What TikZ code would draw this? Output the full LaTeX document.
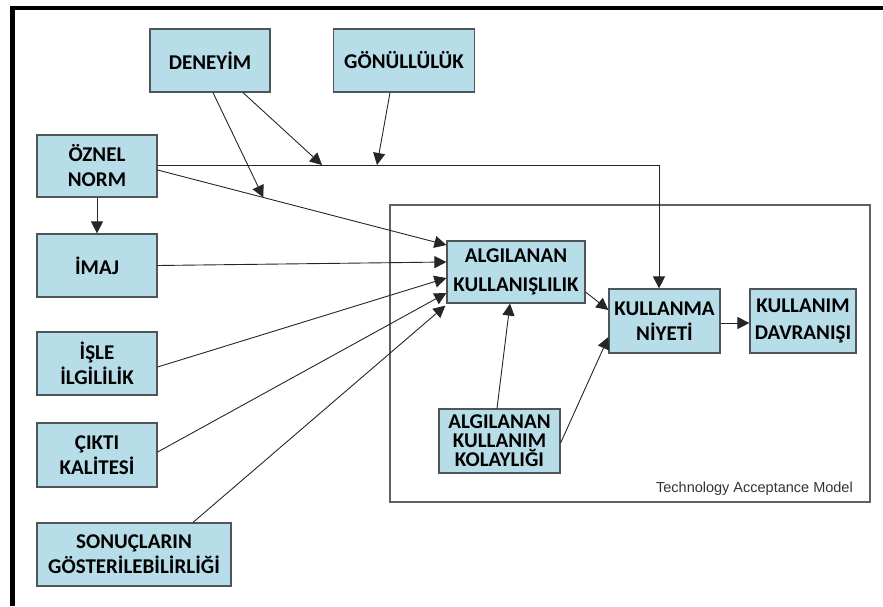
\documentclass[tikz,border=0pt]{standalone}
\usepackage{fontspec}
\setmainfont{Carlito}
\newfontfamily\tamfont{Liberation Sans}
\usetikzlibrary{arrows.meta,calc}
\definecolor{boxblue}{RGB}{183,221,232}
\definecolor{boxline}{RGB}{78,86,90}
\definecolor{framegray}{RGB}{96,96,96}
\tikzset{
  factor/.style={draw=boxline, fill=boxblue, line width=1.2pt, inner sep=0pt,
    align=center, font=\bfseries\fontsize{21}{25}\selectfont},
  link/.style={draw=black!85, line width=0.9pt},
  arr/.style={link, -{Triangle[length=12pt,width=12pt]}},
}
\begin{document}
\begin{tikzpicture}[x=1pt,y=-1pt]
  \useasboundingbox (0,0) rectangle (883,606);
  % outer frame: heavy top and left rules
  \draw[line width=4pt] (12.5,8) -- (883,8);
  \draw[line width=5pt] (12.5,6) -- (12.5,606);

  % Technology Acceptance Model frame
  \node[draw=framegray, line width=1.1pt, minimum width=480pt, minimum height=297pt,
        inner sep=0pt] (tam) at (630,353.5) {};
  \node[anchor=base east, inner sep=0pt, text=black!80,
        font=\tamfont\fontsize{14.5}{16}\selectfont] (tamlabel) at (853,492)
        {Technology Acceptance Model};

  % external factors
  \node[factor, minimum width=120pt, minimum height=63pt] (deneyim) at (210,60.5) {DENEYİM};
  \node[factor, minimum width=141pt, minimum height=63pt] (gonul) at (404,60.5) {GÖNÜLLÜLÜK};
  \node[factor, minimum width=120pt, minimum height=62pt] (oznel) at (97,166) {ÖZNEL\\NORM};
  \node[factor, minimum width=120pt, minimum height=63pt] (imaj) at (97,265.5) {İMAJ};
  \node[factor, minimum width=120pt, minimum height=63pt] (isle) at (97,363.5) {İŞLE\\İLGİLİLİK};
  \node[factor, minimum width=120pt, minimum height=64pt] (cikti) at (97,455) {ÇIKTI\\KALİTESİ};
  \node[factor, minimum width=194pt, minimum height=63pt] (sonuc) at (134,554.5) {SONUÇLARIN\\GÖSTERİLEBİLİRLİĞİ};

  % TAM core
  \node[factor, minimum width=138pt, minimum height=62pt,
        font=\bfseries\fontsize{21}{29}\selectfont] (au) at (516,272) {ALGILANAN\\KULLANIŞLILIK};
  \node[factor, minimum width=111pt, minimum height=64pt] (niyet) at (664.5,321) {KULLANMA\\NİYETİ};
  \node[factor, minimum width=106pt, minimum height=64pt,
        font=\bfseries\fontsize{21}{27}\selectfont] (davr) at (803,321) {KULLANIM\\DAVRANIŞI};
  \node[factor, minimum width=121pt, minimum height=64pt,
        font=\bfseries\fontsize{21}{19}\selectfont] (kolay) at (499.5,441) {ALGILANAN\\KULLANIM\\KOLAYLIĞI};

  % junction points on the moderated paths (shifts are in page units, up = positive)
  \coordinate (onStart) at ([yshift=-4pt]oznel.east);
  \coordinate (onEnd) at ([yshift=27pt]au.west);
  \coordinate (j1) at ($(onStart)!0.366!(onEnd)$);
  \coordinate (j2) at (322,165);
  \coordinate (j3) at (377,165);
  \coordinate (bend) at ([xshift=-5.5pt]niyet.north);

  % subjective norm paths
  \draw[arr] (onStart) -- (onEnd);
  \draw[arr] ([yshift=1pt]oznel.east) -| (bend);
  \draw[arr] (oznel.south) -- (imaj.north);

  % moderators
  \draw[arr] ([xshift=3pt]deneyim.south) -- (j1);
  \draw[arr] ([xshift=33pt]deneyim.south) -- (j2);
  \draw[arr] ([xshift=-14pt]gonul.south) -- (j3);

  % determinants of perceived usefulness
  \draw[arr] (imaj.east) -- ([yshift=10pt]au.west);
  \draw[arr] ([yshift=-3.5pt]isle.east) -- ([yshift=-6pt]au.west);
  \draw[arr] ([yshift=3pt]cikti.east) -- ([yshift=-21pt]au.west);
  \draw[arr] ([xshift=59pt]sonuc.north) -- ([xshift=-1pt,yshift=-2pt]au.south west);

  % TAM relations
  \draw[arr] ([yshift=-20pt]au.east) -- ([yshift=11pt]niyet.west);
  \draw[arr] ([xshift=-2.5pt]kolay.north) -- ([xshift=-6pt]au.south);
  \draw[arr] ([yshift=-2pt]kolay.east) -- ([yshift=-16pt]niyet.west);
  \draw[arr] ([yshift=-2pt]niyet.east) -- ([yshift=-2pt]davr.west);
\end{tikzpicture}
\end{document}
